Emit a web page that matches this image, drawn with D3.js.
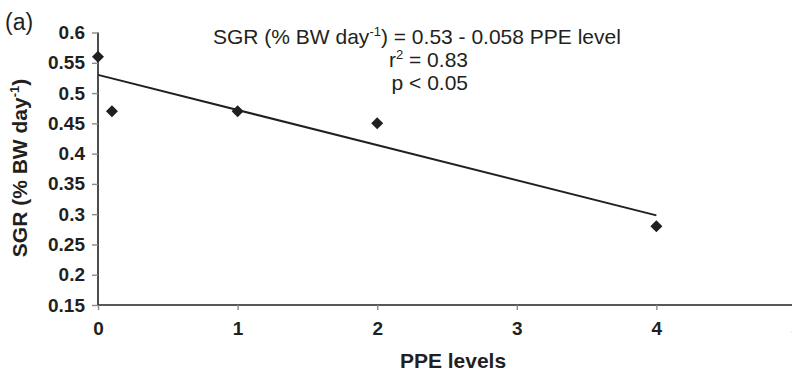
<!DOCTYPE html>
<html>
<head>
<meta charset="utf-8">
<script src="https://cdn.jsdelivr.net/npm/d3@7"></script>
<style>
	body { margin: 0; background: #fff; }
	svg { display: block; font-family: "Liberation Sans", Arial, sans-serif; }
</style>
</head>
<body>
<svg id="chart" width="792" height="375"></svg>
<script>
// points
const ppe = [0, 0.1, 1, 2, 4]
const sgr = [0.56, 0.47, 0.47, 0.45, 0.28]

// fitted line as printed in the panel
const intercept = 0.53
const slope = -0.058
const fitRange = [0, 4]

const xTicks = [0, 1, 2, 3, 4, 5]
const yTicks = [0.15, 0.2, 0.25, 0.3, 0.35, 0.4, 0.45, 0.5, 0.55, 0.6]

const INK = '#231f20'
const svg = d3.select('#chart')

const x = d3.scaleLinear().domain([0, 5]).range([98, 796])
const y = d3.scaleLinear().domain([0.15, 0.6]).range([305, 32.5])

// axes
const yAxis = svg.append('g')
	.attr('transform', `translate(${x(0)},0)`)
	.call(d3.axisLeft(y).tickValues(yTicks).tickSize(6).tickPadding(7)
		.tickFormat(d => String(+d.toFixed(2))))
const xAxis = svg.append('g')
	.attr('transform', `translate(0,${y(0.15)})`)
	.call(d3.axisBottom(x).tickValues(xTicks).tickSize(5).tickPadding(12)
		.tickFormat(d3.format('d')))

for (const g of [xAxis, yAxis]) {
	g.select('.domain').attr('stroke', INK).attr('stroke-width', 1.6)
	g.selectAll('.tick line').attr('stroke', '#8a8a8a').attr('stroke-width', 1.4)
	g.selectAll('.tick text')
		.attr('fill', INK)
		.style('font-size', '19px')
		.style('font-weight', 'bold')
		.style('font-family', '"Liberation Sans", Arial, sans-serif')
}
// the x domain runs off the right edge, no end cap
xAxis.select('.domain').attr('d', `M${x(0)},0H${x(5)}`)
yAxis.select('.domain').attr('d', `M0,${y(0.15)}V${y(0.6)}`)

// regression line
svg.append('line')
	.attr('x1', x(fitRange[0])).attr('y1', y(intercept + slope * fitRange[0]))
	.attr('x2', x(fitRange[1])).attr('y2', y(intercept + slope * fitRange[1]))
	.attr('stroke', INK).attr('stroke-width', 2)

// diamonds
const diamond = d3.symbol().type(d3.symbolSquare).size(72)
svg.append('g').selectAll('path')
	.data(d3.zip(ppe, sgr))
	.join('path')
	.attr('d', diamond)
	.attr('transform', d => `translate(${x(d[0])},${y(d[1])}) rotate(45)`)
	.attr('fill', INK)

// axis titles
svg.append('text')
	.attr('x', 453).attr('y', 368)
	.attr('text-anchor', 'middle')
	.attr('fill', INK)
	.style('font-size', '21px').style('font-weight', 'bold')
	.text('PPE levels')

const yt = svg.append('text')
	.attr('transform', `translate(27,168) rotate(-90)`)
	.attr('text-anchor', 'middle')
	.attr('fill', INK)
	.style('font-size', '21px').style('font-weight', 'bold')
yt.append('tspan').text('SGR (% BW day')
yt.append('tspan').attr('dy', -8).style('font-size', '13px').text('-1')
yt.append('tspan').attr('dy', 8).text(')')

// panel tag
svg.append('text')
	.attr('x', 5).attr('y', 30)
	.attr('fill', INK)
	.style('font-size', '23px')
	.text('(a)')

// equation block
const eq = svg.append('g').attr('fill', INK).style('font-size', '21px')
const l1 = eq.append('text').attr('x', 213).attr('y', 44)
l1.append('tspan').text('SGR (% BW day')
l1.append('tspan').attr('dy', -8).style('font-size', '13px').text('-1')
l1.append('tspan').attr('dy', 8).text(`) = ${intercept} - ${-slope} PPE level`)

const l2 = eq.append('text').attr('x', 468).attr('y', 67).attr('text-anchor', 'end')
l2.append('tspan').text('r')
l2.append('tspan').attr('dy', -8).style('font-size', '13px').text('2')
l2.append('tspan').attr('dy', 8).text(' = 0.83')

eq.append('text').attr('x', 468).attr('y', 90).attr('text-anchor', 'end').text('p < 0.05')
</script>
</body>
</html>
